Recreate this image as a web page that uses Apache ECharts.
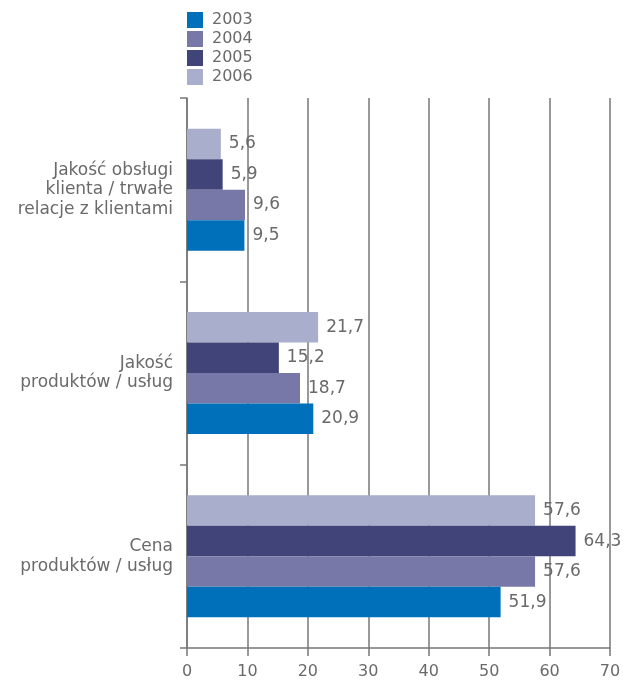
<!DOCTYPE html>
<html>
<head>
<meta charset="utf-8">
<script src="https://cdn.jsdelivr.net/npm/echarts@6/dist/echarts.min.js"></script>
<style>
html, body { margin: 0; padding: 0; background: #fff; }
#chart { width: 623px; height: 681px; }
</style>
</head>
<body>
<div id="chart"></div>
<script>
// kategorie od dołu do góry
var categories = ['Cena\nprodukt\u00f3w / us\u0142ug', 'Jako\u015b\u0107\nprodukt\u00f3w / us\u0142ug', 'Jako\u015b\u0107 obs\u0142ugi\nklienta / trwa\u0142e\nrelacje z klientami'];
var years = ['2003', '2004', '2005', '2006'];
var v2003 = [51.9, 20.9, 9.5];
var v2004 = [57.6, 18.7, 9.6];
var v2005 = [64.3, 15.2, 5.9];
var v2006 = [57.6, 21.7, 5.6];
var xTicks = [0, 10, 20, 30, 40, 50, 60, 70];

var colors = ['#0070BA', '#7878A8', '#404478', '#A8AECB'];
var values = [v2003, v2004, v2005, v2006];
var fontFam = '"DejaVu Sans", Verdana, sans-serif';
var textColor = '#6a6a6a';

var myChart = echarts.init(document.getElementById('chart'));

// w grupie pierwsza seria rysuje się na górze, więc 2006 idzie pierwsza
var series = [];
for (var i = years.length - 1; i >= 0; i--) {
    series.push({
        name: years[i],
        type: 'bar',
        data: values[i],
        barWidth: 30.5,
        barGap: '0%',
        itemStyle: { color: colors[i] },
        label: {
            show: true,
            position: 'right',
            distance: 8,
            color: textColor,
            fontSize: 17,
            fontFamily: fontFam,
            formatter: function (p) {
                return String(p.value).replace('.', ',');
            }
        }
    });
}

var option = {
    backgroundColor: '#fff',
    animation: false,
    legend: {
        data: years,
        orient: 'vertical',
        left: 187,
        top: 12,
        itemWidth: 16,
        itemHeight: 16,
        itemGap: 3,
        icon: 'rect',
        padding: 0,
        textStyle: { color: textColor, fontSize: 16, fontFamily: fontFam, padding: [2, 0, 0, 4] }
    },
    grid: {
        left: 187,
        right: 13,
        top: 98,
        bottom: 33,
        containLabel: false,
        outerBoundsMode: 'none'
    },
    xAxis: {
        type: 'value',
        min: 0,
        max: 70,
        interval: 10,
        axisLine: { show: true, lineStyle: { color: '#777', width: 1.5 } },
        axisTick: { show: true, length: 8, lineStyle: { color: '#777', width: 1.5 } },
        splitLine: { show: true, lineStyle: { color: '#777', width: 1.5 } },
        axisLabel: {
            color: textColor,
            fontSize: 16,
            fontFamily: fontFam,
            margin: 16,
            formatter: function (v) { return xTicks.indexOf(v) >= 0 ? String(v) : ''; }
        }
    },
    yAxis: {
        type: 'category',
        data: categories,
        axisLine: { show: true, lineStyle: { color: '#777', width: 1.5 } },
        axisTick: { show: true, length: 7, lineStyle: { color: '#777', width: 1.5 } },
        axisLabel: {
            color: textColor,
            fontSize: 17,
            lineHeight: 19.5,
            fontFamily: fontFam,
            margin: 14,
            align: 'right',
            padding: [0, 0, 13, 0]
        }
    },
    series: series
};

myChart.setOption(option);

window.addEventListener('resize', function () {
    myChart.resize();
});
</script>
</body>
</html>
